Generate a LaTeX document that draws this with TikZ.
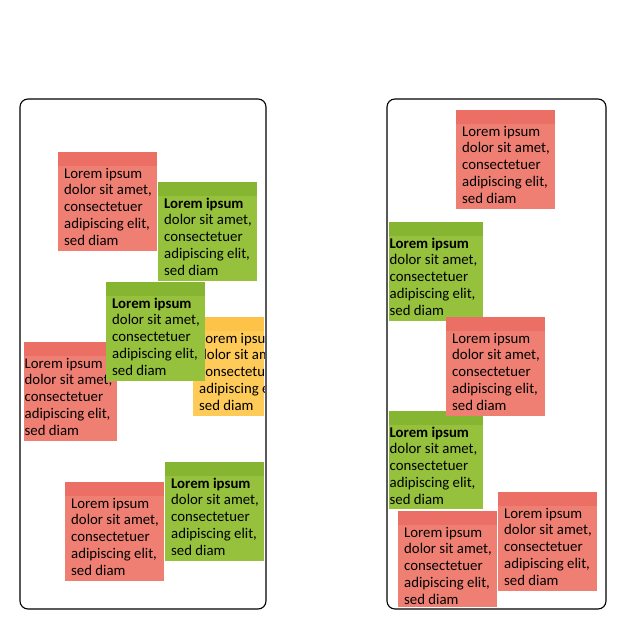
\documentclass[tikz,border=0pt]{standalone}
\usepackage{fontspec}
\setmainfont{Carlito}
\definecolor{redbody}{RGB}{240,127,115}
\definecolor{redstrip}{RGB}{235,111,101}
\definecolor{greenbody}{RGB}{149,193,61}
\definecolor{greenstrip}{RGB}{134,181,50}
\definecolor{yellowbody}{RGB}{254,203,88}
\definecolor{yellowstrip}{RGB}{252,195,72}
\tikzset{
  panel/.style={draw=black, line width=1.1pt, rounded corners=8pt},
  notetext/.style={inner sep=0pt, align=left, anchor=north west, text=black,
    font=\fontsize{14.8}{16.75}\selectfont}
}
\newcommand\snote[8]{%
  \begin{scope}
    \clip (#2,#3) rectangle (#4,#5);
    \fill[#7body] (#2,#3) rectangle (#4,#5);
    \fill[#7strip] (#2,#3) rectangle (#4,{#3+14});
    \node[notetext] (#1) at (#6,{#3+14}) {\rule{0pt}{12pt}#8\\dolor sit amet,\\consectetuer\\adipiscing elit,\\sed diam};
  \end{scope}}
\begin{document}
\begin{tikzpicture}[x=1pt,y=-1pt]
\path[use as bounding box] (0,0) rectangle (630,640);
\draw[panel] (20,99) rectangle (266,609);
\draw[panel] (387,99) rectangle (606,609);
% left panel
\snote{l1}{58}{152}{157}{251}{64}{red}{Lorem ipsum}
\snote{l2}{158}{182}{257}{281}{164}{green}{\textbf{Lorem ipsum}}
\snote{l4}{193}{317}{264}{416}{199}{yellow}{Lorem ipsum}
\snote{l5}{24}{342}{117}{441}{24.5}{red}{Lorem ipsum}
\snote{l3}{106}{282}{205}{381}{112}{green}{\textbf{Lorem ipsum}}
\snote{l6}{65}{482}{164}{581}{71}{red}{Lorem ipsum}
\snote{l7}{165}{462}{264}{561}{171}{green}{\textbf{Lorem ipsum}}
% right panel
\snote{r1}{456}{110}{555}{209}{462}{red}{Lorem ipsum}
\snote{r2}{389}{222}{483}{321}{389.5}{green}{\textbf{Lorem ipsum}}
\snote{r4}{389}{411}{483}{509}{389.5}{green}{\textbf{Lorem ipsum}}
\snote{r3}{446}{317}{545}{416}{452}{red}{Lorem ipsum}
\snote{r5}{398}{511}{497}{607}{404}{red}{Lorem ipsum}
\snote{r6}{498}{492}{597}{591}{504}{red}{Lorem ipsum}
\end{tikzpicture}
\end{document}
